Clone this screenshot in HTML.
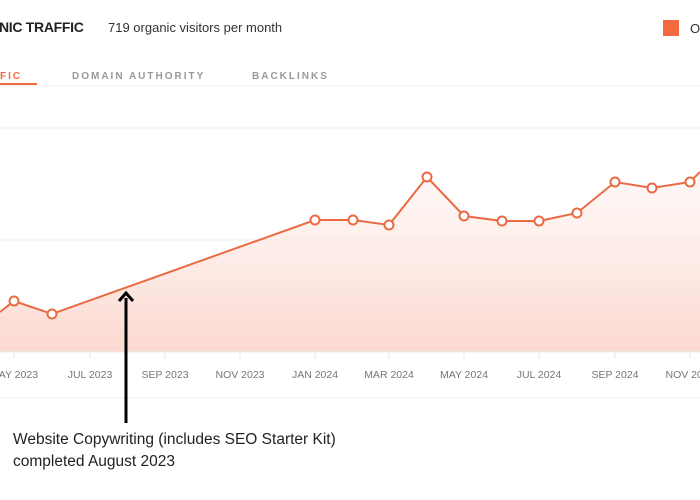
<!DOCTYPE html>
<html><head><style>
body{margin:0;width:700px;height:500px;background:#fff;overflow:hidden;font-family:"Liberation Sans",sans-serif;}
</style></head><body>
<svg width="700" height="500" xmlns="http://www.w3.org/2000/svg" style="position:absolute;left:0;top:0">
<defs><linearGradient id="g" x1="0" y1="0" x2="0" y2="1">
<stop offset="0" stop-color="#fde8e2" stop-opacity="0.3"/><stop offset="1" stop-color="#fbd8cf"/></linearGradient></defs>
<text x="-1" y="32" font-size="14" font-weight="bold" fill="#222" letter-spacing="-0.3">NIC TRAFFIC</text>
<text x="108" y="32" font-size="13" fill="#333">719 organic visitors per month</text>
<rect x="663" y="20" width="16" height="16" fill="#f26a3d"/>
<text x="690" y="33" font-size="13" fill="#333">O</text>
<text x="0" y="79" font-size="10" font-weight="bold" fill="#ee6a45" letter-spacing="2">FIC</text>
<rect x="0" y="83" width="37" height="2" fill="#ee6a45"/>
<text x="72" y="79" font-size="10" font-weight="bold" fill="#999" letter-spacing="2">DOMAIN AUTHORITY</text>
<text x="252" y="79" font-size="10" font-weight="bold" fill="#999" letter-spacing="2">BACKLINKS</text>
<line x1="0" y1="86" x2="700" y2="86" stroke="#eee"/>
<line x1="0" y1="128" x2="700" y2="128" stroke="#f0f0f0"/>
<line x1="0" y1="240" x2="700" y2="240" stroke="#f0f0f0"/>
<path d="M0,312 L14,301 L52,314 L315,220 L353,220 L389,225 L427,177 L464,216 L502,221 L539,221 L577,213 L615,182 L652,188 L690,182 L700,172 L700,352 L0,352Z" fill="url(#g)"/>
<line x1="0" y1="352" x2="700" y2="352" stroke="#eee"/>
<polyline points="0,312 14,301 52,314 315,220 353,220 389,225 427,177 464,216 502,221 539,221 577,213 615,182 652,188 690,182 700,172" fill="none" stroke="#ea6a44" stroke-width="2"/>
<g fill="#fff" stroke="#ea6a44" stroke-width="2">
<circle cx="14" cy="301" r="4.5"/><circle cx="52" cy="314" r="4.5"/><circle cx="315" cy="220" r="4.5"/><circle cx="353" cy="220" r="4.5"/><circle cx="389" cy="225" r="4.5"/><circle cx="427" cy="177" r="4.5"/><circle cx="464" cy="216" r="4.5"/><circle cx="502" cy="221" r="4.5"/><circle cx="539" cy="221" r="4.5"/><circle cx="577" cy="213" r="4.5"/><circle cx="615" cy="182" r="4.5"/><circle cx="652" cy="188" r="4.5"/><circle cx="690" cy="182" r="4.5"/>
</g>
<g stroke="#e5e5e5"><line x1="14" y1="352" x2="14" y2="358"/><line x1="90" y1="352" x2="90" y2="358"/><line x1="165" y1="352" x2="165" y2="358"/><line x1="240" y1="352" x2="240" y2="358"/><line x1="315" y1="352" x2="315" y2="358"/><line x1="389" y1="352" x2="389" y2="358"/><line x1="464" y1="352" x2="464" y2="358"/><line x1="539" y1="352" x2="539" y2="358"/><line x1="615" y1="352" x2="615" y2="358"/><line x1="690" y1="352" x2="690" y2="358"/></g>
<g font-size="10.5" fill="#777" text-anchor="middle">
<text x="14" y="378">MAY 2023</text><text x="90" y="378">JUL 2023</text><text x="165" y="378">SEP 2023</text><text x="240" y="378">NOV 2023</text><text x="315" y="378">JAN 2024</text><text x="389" y="378">MAR 2024</text><text x="464" y="378">MAY 2024</text><text x="539" y="378">JUL 2024</text><text x="615" y="378">SEP 2024</text><text x="690" y="378">NOV 2024</text></g>
<line x1="0" y1="398" x2="700" y2="398" stroke="#eee"/>
<line x1="126" y1="298" x2="126" y2="423" stroke="#000" stroke-width="3"/>
<polyline points="119,301 126,293 133,301" fill="none" stroke="#000" stroke-width="3"/>
<text x="13" y="444" font-size="15.5" fill="#222">Website Copywriting (includes SEO Starter Kit)</text>
<text x="13" y="466" font-size="15.5" fill="#222">completed August 2023</text>
</svg>
</body></html>
